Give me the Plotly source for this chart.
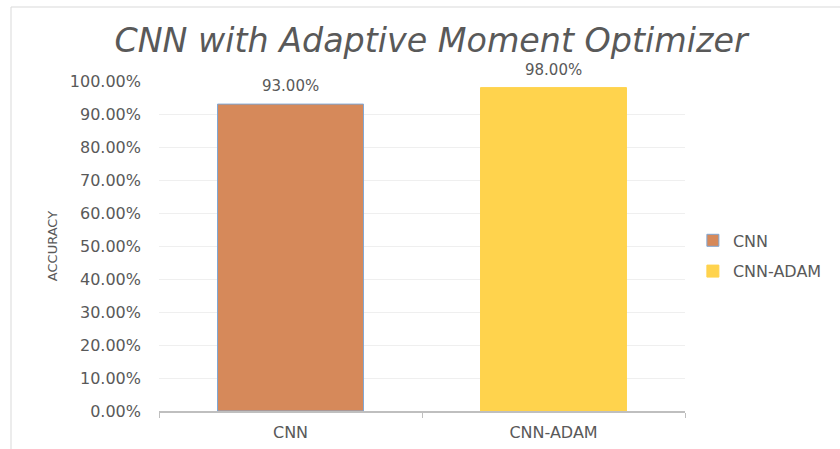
import plotly.graph_objects as go

categories = ["CNN", "CNN-ADAM"]
accuracy = [0.93, 0.98]
colors = ["#D6895A", "#FFD34D"]
outline = ["#7FA7D4", "#FFD34D"]
y_ticks = [0, 0.1, 0.2, 0.3, 0.4, 0.5, 0.6, 0.7, 0.8, 0.9, 1.0]
y_tick_labels = ["0.00%", "10.00%", "20.00%", "30.00%", "40.00%", "50.00%",
                 "60.00%", "70.00%", "80.00%", "90.00%", "100.00%"]

W, H = 840, 449
L, R, T, B = 159, 155, 81, 38
pw, ph = W - L - R, H - T - B

FONT = "DejaVu Sans"
GREY = "#595959"

fig = go.Figure()
for i, (c, v) in enumerate(zip(categories, accuracy)):
    fig.add_trace(go.Bar(
        x=[c], y=[v], name=c,
        marker=dict(color=colors[i], line=dict(color=outline[i], width=1)),
        cliponaxis=False, legendgroup=c,
    ))
    fig.add_annotation(x=c, y=v, text=f"{v*100:.2f}%", showarrow=False,
                       yanchor="bottom", yshift=7,
                       font=dict(family=FONT, size=15, color=GREY))

def px_to_paper(x, y):
    return (x - L) / pw, (H - B - y) / ph

x0, y0 = px_to_paper(11, 7)
x1, y1 = px_to_paper(860, 470)

fig.update_layout(
    width=W, height=H,
    margin=dict(l=L, r=R, t=T, b=B, autoexpand=False),
    paper_bgcolor="white", plot_bgcolor="white",
    barmode="overlay", bargap=0.445,
    title=dict(text="<i>CNN with Adaptive Moment Optimizer</i>",
               font=dict(family=FONT, size=33.3, color=GREY),
               x=431 / W, xanchor="center", xref="container",
               y=1 - 40 / H, yanchor="middle"),
    legend=dict(x=1.015, xanchor="left", y=0.47, yanchor="middle",
                font=dict(family=FONT, size=16, color=GREY),
                tracegroupgap=7, traceorder="grouped",
                itemwidth=30),
    showlegend=True,
    shapes=[dict(type="rect", xref="paper", yref="paper",
                 x0=x0, x1=x1, y0=y1, y1=y0,
                 line=dict(color="#D9D9D9", width=1), layer="below")],
)
fig.update_xaxes(
    showline=True, linecolor="#BFBFBF", linewidth=1.5,
    ticks="outside", tickson="boundaries", ticklen=5, tickcolor="#BFBFBF",
    tickfont=dict(family=FONT, size=16, color=GREY), ticklabelstandoff=6,
    showgrid=False,
)
fig.update_yaxes(
    range=[0, 1], tickvals=y_ticks, ticktext=y_tick_labels,
    tickfont=dict(family=FONT, size=16, color=GREY),
    showgrid=True, gridcolor="#EFEFEF", gridwidth=1,
    zeroline=False, showline=False, ticklabelstandoff=17,
    title=dict(text="ACCURACY", font=dict(family=FONT, size=13, color=GREY),
               standoff=9),
)

fig.write_html("out.html")
